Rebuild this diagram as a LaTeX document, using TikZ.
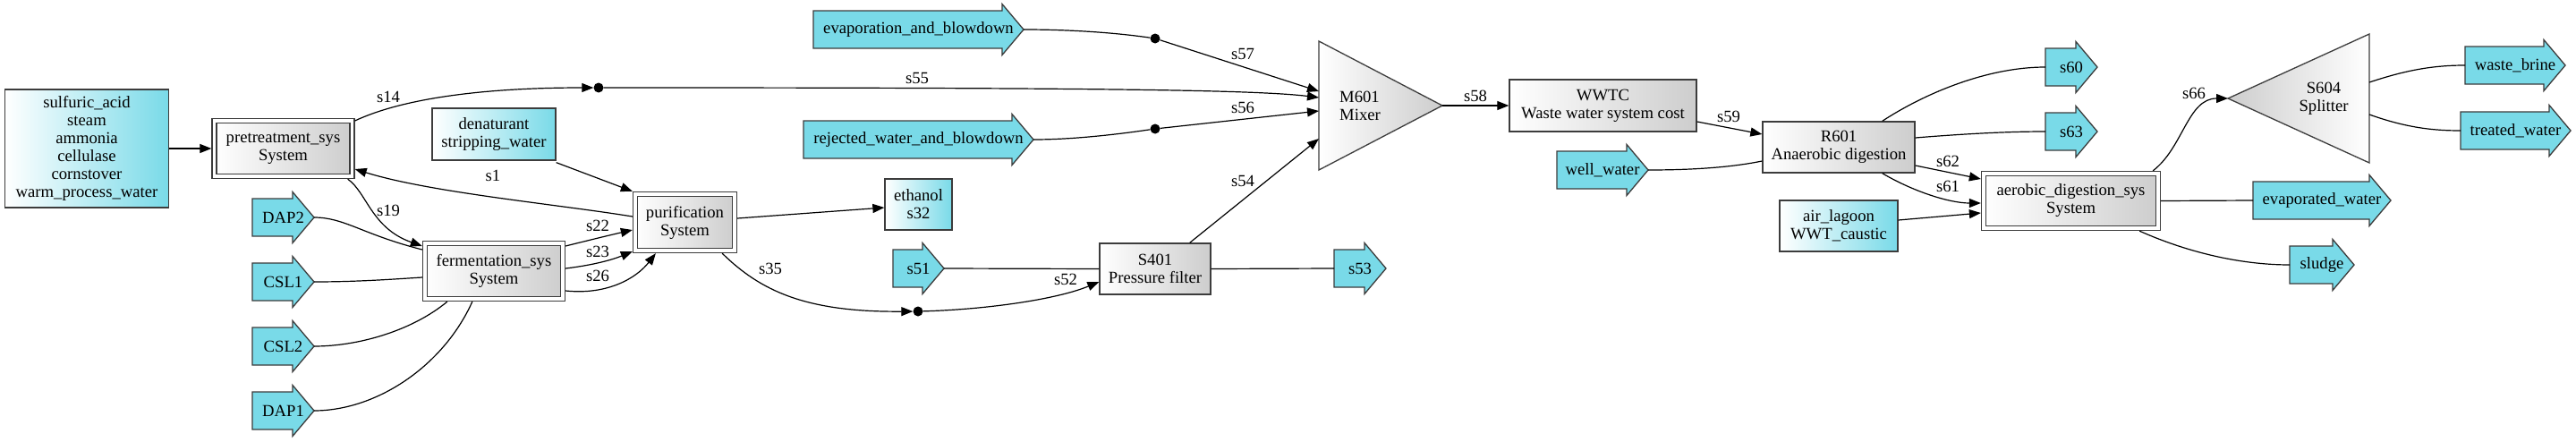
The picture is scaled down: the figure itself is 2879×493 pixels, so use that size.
\documentclass[tikz,border=0pt]{standalone}
\usepackage{fontspec}
\setmainfont{Liberation Serif}
\usetikzlibrary{arrows.meta}
\definecolor{feedc}{HTML}{79DAE8}
\definecolor{unitc}{HTML}{CDCDCD}
\definecolor{bord}{HTML}{3C3C3C}
\tikzset{
  txt/.style={font=\fontsize{18.67}{20}\selectfont, align=center, inner sep=0pt, text=black},
  lbl/.style={txt},
  feedtext/.style={txt, minimum height=42pt, outer sep=0pt},
  feedshape/.style={fill=feedc, draw=bord, line width=1.3pt, line join=miter},
  unitbox/.style={txt, draw=bord, line width=1.3pt, left color=white, right color=unitc},
  cyanbox/.style={txt, draw=bord, line width=1.3pt, left color=white, right color=feedc},
  sysbox/.style={txt, draw=bord, line width=1.3pt, double=white, double distance=3.7pt, left color=white, right color=unitc, outer sep=3.15pt},
  conn/.style={draw=black, line width=1.2pt},
  arr/.style={conn, -{Triangle[length=13pt,width=10pt]}},
  junc/.style={circle, fill=black, inner sep=0pt, minimum size=11pt},
  tri/.style={draw=bord, line width=1.3pt, line join=miter},
}
\newcommand\feedarrow[5]{%
  \filldraw[feedshape] (#2,#4-21) -- (#3-24,#4-21) -- (#3-24,#4-28.5) -- (#3,#4) -- (#3-24,#4+28.5) -- (#3-24,#4+21) -- (#2,#4+21) -- cycle;
  \node[feedtext, minimum width={#3-#2}] (#1) at ({(#2+#3)/2},#4) {#5};}
\begin{document}
\begin{tikzpicture}[x=1pt,y=-1pt]
\useasboundingbox (0,0) rectangle (2879,493);
\fill[white] (0,0) rectangle (2879,493);

% single boxes
\node[cyanbox, minimum width=183pt, minimum height=132pt] (sulf) at (97,166) {sulfuric\_acid\\steam\\ammonia\\cellulase\\cornstover\\warm\_process\_water};
\node[cyanbox, minimum width=138pt, minimum height=58pt] (denat) at (552,150) {denaturant\\stripping\_water};
\node[cyanbox, minimum width=75pt, minimum height=57pt] (ethanol) at (1026.5,228.5) {ethanol\\s32};
\node[unitbox, minimum width=124pt, minimum height=57pt] (S401) at (1291,300.5) {S401\\Pressure filter};
\node[unitbox, minimum width=209pt, minimum height=58pt] (WWTC) at (1791.5,118) {WWTC\\Waste water system cost};
\node[unitbox, minimum width=170pt, minimum height=57pt] (R601) at (2055,164.5) {R601\\Anaerobic digestion};
\node[cyanbox, minimum width=132pt, minimum height=57pt] (air) at (2055,252.5) {air\_lagoon\\WWT\_caustic};

% system boxes
\node[sysbox, minimum width=154pt, minimum height=62pt] (pretreat) at (316.5,166) {pretreatment\_sys\\System};
\node[sysbox, minimum width=154pt, minimum height=62pt] (ferm) at (552,303) {fermentation\_sys\\System};
\node[sysbox, minimum width=111pt, minimum height=63pt] (purif) at (765.5,248.5) {purification\\System};
\node[sysbox, minimum width=195pt, minimum height=61pt] (aerobic) at (2314.5,224.5) {aerobic\_digestion\_sys\\System};

% triangles
\shadedraw[tri, left color=white, right color=unitc] (1474,46) -- (1612,118) -- (1474,190) -- cycle;
\node[txt, align=left, anchor=west] (M601) at (1497,118) {M601\\Mixer};
\coordinate (M601tip) at (1612,118);
\coordinate (M601a) at (1474,102);
\coordinate (M601b) at (1474,109);
\coordinate (M601c) at (1474,124);
\coordinate (M601d) at (1474,155);
\shadedraw[tri, left color=unitc, right color=white] (2490,110) -- (2648,38) -- (2648,182) -- cycle;
\node[txt] (S604) at (2597,110) {S604\\Splitter};
\coordinate (S604tip) at (2490,110);
\coordinate (S604a) at (2648,92);
\coordinate (S604b) at (2648,128);

% feeds and products
\feedarrow{DAP2}{282}{351}{243}{DAP2}
\feedarrow{CSL1}{282}{351}{315}{CSL1}
\feedarrow{CSL2}{282}{351}{387}{CSL2}
\feedarrow{DAP1}{282}{351}{459}{DAP1}
\feedarrow{evap}{909}{1144}{33}{evaporation\_and\_blowdown}
\feedarrow{rej}{898}{1155}{156}{rejected\_water\_and\_blowdown}
\feedarrow{s51}{998}{1055}{300}{s51}
\feedarrow{s53}{1491}{1549}{300}{s53}
\feedarrow{well}{1740}{1842}{190}{well\_water}
\feedarrow{s60}{2286}{2344}{75}{s60}
\feedarrow{s63}{2286}{2344}{147}{s63}
\feedarrow{wbrine}{2755}{2867}{73}{waste\_brine}
\feedarrow{twater}{2750}{2873}{146}{treated\_water}
\feedarrow{evw}{2518}{2672}{224}{evaporated\_water}
\feedarrow{sludge}{2559}{2631}{296}{sludge}

% junction dots
\node[junc] (d14) at (669,98) {};
\node[junc] (d57) at (1291,43) {};
\node[junc] (d56) at (1291,144) {};
\node[junc] (d35) at (1026,348) {};

% connectors
\draw[arr] (sulf.east) -- (pretreat.west);
\draw[arr] ([yshift=31pt]pretreat.east) .. controls (450,110) and (540,98) .. (d14);
\draw[arr] (d14) .. controls (1200,98) and (1400,100) .. (M601b);
\draw[arr] ([yshift=6.5pt]purif.west) .. controls (620,228) and (480,215) .. ([yshift=-23pt]pretreat.east);
\draw[arr] ([xshift=-8pt]pretreat.south east) .. controls (410,215) and (415,255) .. ([yshift=28pt]ferm.west);
\draw[arr] ([yshift=-2pt]denat.south east) -- (purif.north west);
\draw[arr] ([yshift=28pt]ferm.east) .. controls (660,268) and (685,262) .. ([yshift=-8.5pt]purif.west);
\draw[arr] ([yshift=3pt]ferm.east) .. controls (665,296) and (685,290) .. ([yshift=2pt]purif.south west);
\draw[arr] ([yshift=-22pt]ferm.east) .. controls (680,330) and (712,310) .. ([xshift=26pt]purif.south west);
\draw[conn] (DAP2.east) .. controls (385,243) and (405,262) .. ([yshift=24pt]ferm.west);
\draw[conn] (CSL1.east) .. controls (400,315) and (440,312) .. ([yshift=-7pt]ferm.west);
\draw[conn] (CSL2.east) .. controls (400,387) and (460,370) .. ([xshift=28pt]ferm.south west);
\draw[conn] (DAP1.east) .. controls (420,459) and (495,410) .. ([xshift=56pt]ferm.south west);
\draw[arr] ([yshift=4.5pt]purif.east) -- ([yshift=-3.5pt]ethanol.west);
\draw[arr] ([xshift=-17pt]purif.south east) .. controls (850,325) and (900,349) .. (d35);
\draw[arr] (d35) .. controls (1100,346) and (1180,335) .. ([yshift=-14.5pt]S401.west);
\draw[conn] (s51.east) -- (S401.west);
\draw[conn] (S401.east) -- (s53.west);
\draw[arr] ([xshift=-24pt]S401.north east) -- (M601d);
\draw[conn] (evap.east) .. controls (1200,33) and (1250,37) .. (d57);
\draw[arr] (d57) -- (M601a);
\draw[conn] (rej.east) .. controls (1200,156) and (1250,150) .. (d56);
\draw[arr] (d56) -- (M601c);
\draw[arr] (M601tip) -- (WWTC.west);
\draw[arr] ([yshift=-18pt]WWTC.east) -- ([yshift=14.5pt]R601.west);
\draw[conn] (well.east) .. controls (1900,190) and (1940,186) .. ([yshift=-15.5pt]R601.west);
\draw[conn] ([xshift=-37pt]R601.north east) .. controls (2150,105) and (2220,75) .. (s60.west);
\draw[conn] ([yshift=10.5pt]R601.east) .. controls (2190,150) and (2240,147) .. (s63.west);
\draw[arr] ([yshift=-20.5pt]R601.east) -- ([yshift=24.5pt]aerobic.west);
\draw[arr] ([xshift=-37pt]R601.south east) .. controls (2140,215) and (2180,227) .. ([yshift=-2.5pt]aerobic.west);
\draw[arr] ([yshift=6.5pt]air.east) -- ([yshift=-13.5pt]aerobic.west);
\draw[arr] ([xshift=-9pt]aerobic.north east) .. controls (2440,165) and (2445,110) .. (S604tip);
\draw[conn] (S604a) .. controls (2690,78) and (2720,73) .. (wbrine.west);
\draw[conn] (S604b) .. controls (2690,143) and (2720,146) .. (twater.west);
\draw[conn] (aerobic.east) -- (evw.west);
\draw[conn] ([xshift=-24pt]aerobic.south east) .. controls (2440,280) and (2500,296) .. (sludge.west);

% labels
\node[lbl] (l14) at (434,108) {s14};
\node[lbl] (l55) at (1025,87) {s55};
\node[lbl] (l1) at (551,196) {s1};
\node[lbl] (l19) at (434,235) {s19};
\node[lbl] (l22) at (668,252) {s22};
\node[lbl] (l23) at (668,281) {s23};
\node[lbl] (l26) at (668,308) {s26};
\node[lbl] (l35) at (861,300) {s35};
\node[lbl] (l52) at (1191,312) {s52};
\node[lbl] (l54) at (1389,202) {s54};
\node[lbl] (l57) at (1389,60) {s57};
\node[lbl] (l56) at (1389,120) {s56};
\node[lbl] (l58) at (1649,107) {s58};
\node[lbl] (l59) at (1932,130) {s59};
\node[lbl] (l62) at (2177,180) {s62};
\node[lbl] (l61) at (2177,208) {s61};
\node[lbl] (l66) at (2452,104) {s66};
\end{tikzpicture}
\end{document}
